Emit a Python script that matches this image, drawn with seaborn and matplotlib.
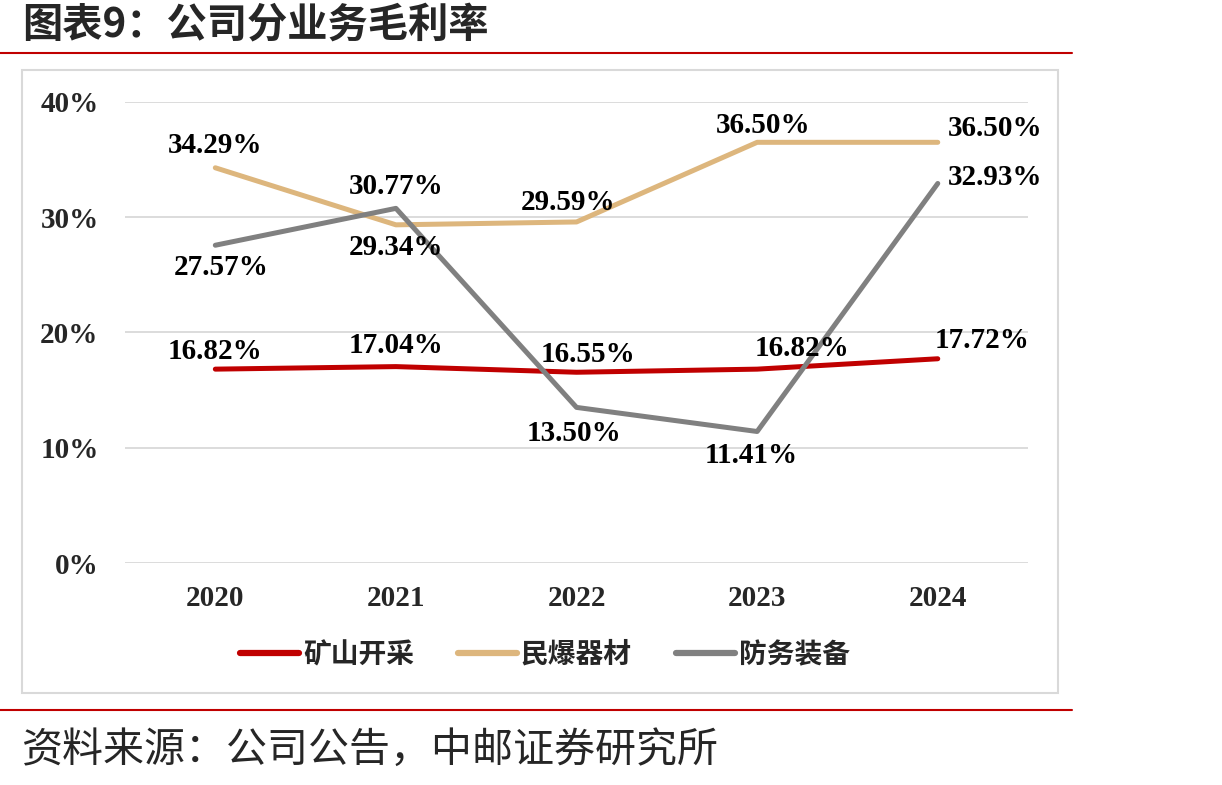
import pandas as pd
import seaborn as sns
import matplotlib.pyplot as plt
from matplotlib.patches import Rectangle
from matplotlib.lines import Line2D

years = ["2020", "2021", "2022", "2023", "2024"]
mining = [16.82, 17.04, 16.55, 16.82, 17.72]
explosives = [34.29, 29.34, 29.59, 36.50, 36.50]
defense = [27.57, 30.77, 13.50, 11.41, 32.93]
series_names = ["矿山开采", "民爆器材", "防务装备"]
colors = ["#C00000", "#DDB67D", "#808080"]

# label offsets in points (dx, dy) for each series / year
offsets = {
    "矿山开采": [(0, 13), (0, 15), (8, 13), (32, 15), (32, 13)],
    "民爆器材": [(0, 16), (0, -16), (-6, 14), (4, 12), (41, 10)],
    "防务装备": [(4, -16), (0, 16), (-2, -19), (-4, -17), (41, 4)],
}

df = pd.DataFrame({
    "year": years * 3,
    "value": [v / 100 for v in mining + explosives + defense],
    "series": [s for s in series_names for _ in years],
})

sns.set_theme(style="white")
plt.rcParams["font.family"] = ["Liberation Serif", "Noto Sans CJK SC", "DejaVu Sans"]

fig = plt.figure(figsize=(12.22, 7.85), dpi=100)
ax = fig.add_axes([0.1023, 0.2828, 0.739, 0.5873])

sns.lineplot(data=df, x="year", y="value", hue="series", palette=colors,
             hue_order=series_names, linewidth=3.6, sort=False, ax=ax,
             legend=False)

for name, vals in zip(series_names, [mining, explosives, defense]):
    for i, v in enumerate(vals):
        dx, dy = offsets[name][i]
        ax.annotate(f"{v:.2f}%", (i, v / 100), xytext=(dx, dy),
                    textcoords="offset points", ha="center", va="center",
                    fontsize=21, fontweight="bold", color="black",
                    family="Liberation Serif")

ax.set_xlim(-0.5, 4.5)
ax.set_ylim(0, 0.4)
ax.set_yticks([0, 0.1, 0.2, 0.3, 0.4])
ax.set_yticklabels(["0%", "10%", "20%", "30%", "40%"])
ax.grid(axis="y", color="#D9D9D9", linewidth=1.3)
ax.set_axisbelow(True)
for s in ax.spines.values():
    s.set_visible(False)
ax.set_xlabel("")
ax.set_ylabel("")
ax.tick_params(axis="both", length=0, labelsize=21)
ax.tick_params(axis="y", pad=19)
ax.tick_params(axis="x", pad=16)
for t in ax.get_xticklabels() + ax.get_yticklabels():
    t.set_fontweight("bold")
    t.set_family("Liberation Serif")

handles = [Line2D([], [], color=c, linewidth=4.5, solid_capstyle="round")
           for c in colors]
fig.legend(handles, series_names, loc="center", bbox_to_anchor=(0.446, 0.1656),
           ncol=3, frameon=False, handlelength=2.1, handletextpad=0.15,
           columnspacing=1.6, prop={"family": "Noto Sans CJK SC",
                                    "weight": "bold", "size": 20})

# chart frame
fig.patches.append(Rectangle((22 / 1222, 1 - 693 / 785), 1036 / 1222, 623 / 785,
                             transform=fig.transFigure, fill=False,
                             edgecolor="#D9D9D9", linewidth=1.5))
# red rules
fig.add_artist(Line2D([0, 1072 / 1222], [1 - 53 / 785] * 2,
                      color="#C00000", linewidth=1.5))
fig.add_artist(Line2D([0, 1072 / 1222], [1 - 710 / 785] * 2,
                      color="#C00000", linewidth=1.5))

fig.text(22 / 1222, 1 - 25 / 785, "图表9：公司分业务毛利率", ha="left", va="center",
         fontsize=29, fontweight="bold", family=["Noto Sans CJK SC", "DejaVu Sans"])
fig.text(22 / 1222, 1 - 750 / 785, "资料来源：公司公告，中邮证券研究所", ha="left",
         va="center", fontsize=29.5, family=["Noto Sans CJK SC", "DejaVu Sans"])

fig.savefig("out.png", dpi=100, facecolor="white")
